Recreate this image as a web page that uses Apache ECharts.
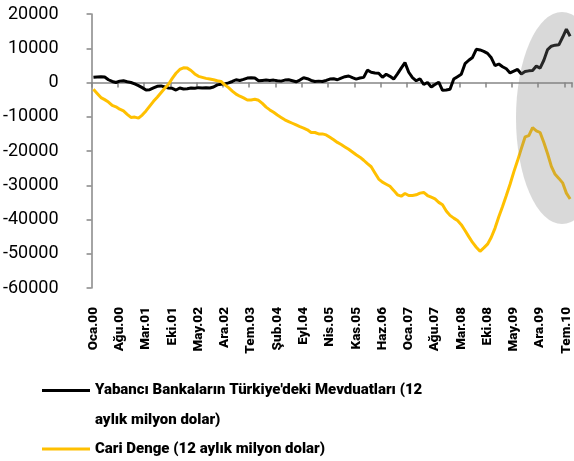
<!DOCTYPE html>
<html>
<head>
    <meta charset="utf-8">
    <title>ECharts</title>
    <script src="https://cdn.jsdelivr.net/npm/echarts@6/dist/echarts.min.js"></script>
    <style>
        html, body { margin: 0; padding: 0; background: #fff; }
    </style>
</head>
<body>
    <div id="main" style="width: 574px;height:461px;"></div>
    <script type="text/javascript">
        // aylar (Oca.00 - Ağu.10, aylık)
        var monthNames = ['Oca', 'Şub', 'Mar', 'Nis', 'May', 'Haz', 'Tem', 'Ağu', 'Eyl', 'Eki', 'Kas', 'Ara'];
        var months = [];
        for (var i = 0; i < 128; i++) {
            var yy = Math.floor(i / 12);
            months.push(monthNames[i % 12] + '.' + (yy < 10 ? '0' + yy : '' + yy));
        }

        var nameDeposits = 'Yabancı Bankaların Türkiye\'deki Mevduatları (12 aylık milyon dolar)';
        var nameCurrent = 'Cari Denge (12 aylık milyon dolar)';

        // Yabancı bankaların Türkiye'deki mevduatları, 12 aylık, milyon $
        var deposits = [
            1500, 1600, 1700, 1600, 800, 300, 0, 400, 500, 200,
            0, -400, -900, -1500, -2200, -2100, -1600, -1100, -1000, -1300,
            -1600, -1700, -2200, -1600, -1900, -1800, -1600, -1700, -1500, -1600,
            -1500, -1600, -1300, -700, -500, -400, -100, 300, 800, 600,
            900, 1300, 1400, 1300, 500, 600, 700, 600, 700, 500,
            400, 700, 800, 500, 200, 700, 1400, 1100, 600, 300,
            400, 300, 600, 1000, 1100, 800, 1300, 1700, 1900, 1400,
            1000, 1300, 1500, 3600, 3000, 2800, 2700, 1500, 2400, 1800,
            1000, 2500, 4200, 5800, 3000, 1400, 500, 1100, -600, 0,
            -1300, -600, 100, -2300, -2200, -2000, 1000, 1700, 2400, 5500,
            6500, 7300, 9700, 9500, 9100, 8500, 7200, 4900, 5400, 4600,
            4000, 2800, 3300, 3800, 2500, 3200, 3400, 3500, 4800, 4200,
            6500, 9600, 10600, 10900, 11000, 13200, 15600, 13500
        ];

        // Cari denge, 12 aylık, milyon $
        var currentAccount = [
            -2000, -3200, -4400, -5000, -5700, -6700, -7100, -7800, -8300, -9300,
            -10200, -10100, -10400, -9500, -8300, -6900, -5500, -4300, -3000, -1700,
            -500, 1200, 2700, 3800, 4300, 4200, 3500, 2500, 1800, 1500,
            1200, 1000, 800, 500, 300, -700, -1500, -2500, -3400, -4000,
            -4500, -5100, -5100, -4900, -5200, -6100, -7200, -8000, -8700, -9500,
            -10200, -10900, -11400, -11900, -12400, -12900, -13300, -13800, -14600, -14600,
            -15000, -15000, -15300, -16000, -16700, -17500, -18100, -18800, -19500, -20300,
            -21100, -21800, -22700, -23700, -24600, -26400, -28200, -29100, -29700, -30300,
            -31500, -32800, -33200, -32400, -33000, -33000, -32800, -32300, -32100, -33000,
            -33500, -34000, -35000, -35700, -37500, -38800, -39600, -40300, -41500, -43200,
            -45000, -46700, -48100, -49300, -48300, -47200, -45200, -42500, -39200, -36200,
            -33000, -29700, -26100, -22800, -19300, -15900, -15500, -13200, -14100, -14600,
            -17500, -20800, -24500, -26800, -28000, -29300, -32300, -34000
        ];

        var myChart = echarts.init(document.getElementById('main'));

        var axisGray = '#868686';
        var font = 'Roboto';

        option = {
            animation: false,
            textStyle: { fontFamily: font },
            grid: { left: 91, right: 2, top: 14, bottom: 173 },
            legend: [
                {
                    // çizgi ikonu iki satırlık metnin ilk satırına hizalı
                    data: [{ name: nameDeposits, icon: 'path://M0,0H48V3H0Z M0,32H0.05V32.05H0Z' }],
                    left: 42,
                    top: 375,
                    padding: 0,
                    itemWidth: 48,
                    itemHeight: 33,
                    itemGap: 5,
                    selectedMode: false,
                    formatter: function () {
                        return 'Yabancı Bankaların Türkiye\'deki Mevduatları (12\naylık milyon dolar)';
                    },
                    textStyle: { fontFamily: font, fontSize: 15, fontWeight: 900, color: '#000', lineHeight: 30 }
                },
                {
                    data: [{ name: nameCurrent, icon: 'rect' }],
                    left: 42,
                    top: 435,
                    padding: 0,
                    itemWidth: 48,
                    itemHeight: 3,
                    itemGap: 5,
                    selectedMode: false,
                    textStyle: { fontFamily: font, fontSize: 15, fontWeight: 900, color: '#000', lineHeight: 28 }
                }
            ],
            xAxis: [
                {
                    type: 'category',
                    data: months,
                    position: 'bottom',
                    axisLine: { show: false, onZero: false },
                    axisTick: { show: false },
                    axisLabel: {
                        interval: 6,
                        rotate: 90,
                        margin: 19,
                        fontFamily: font,
                        fontSize: 13.5,
                        fontWeight: 900,
                        color: '#000'
                    }
                },
                {
                    type: 'category',
                    data: months,
                    position: 'top',
                    axisLine: { show: true, onZero: true, lineStyle: { color: axisGray, width: 1.5 } },
                    axisTick: { show: true, interval: 6, inside: true, length: 5, lineStyle: { color: axisGray, width: 1.5 } },
                    axisLabel: { show: false }
                }
            ],
            yAxis: {
                type: 'value',
                min: -60000,
                max: 20000,
                interval: 10000,
                splitLine: { show: false },
                axisLine: { show: true, lineStyle: { color: axisGray, width: 1.5 } },
                axisTick: { show: true, length: 5, lineStyle: { color: axisGray, width: 1.5 } },
                axisLabel: {
                    fontFamily: font,
                    fontSize: 18,
                    color: '#000',
                    margin: 33,
                    formatter: function (v) { return String(v); }
                }
            },
            graphic: [
                {
                    type: 'circle',
                    x: 562,
                    y: 118,
                    scaleX: 0.434,
                    shape: { cx: 0, cy: 0, r: 106 },
                    style: { fill: 'rgba(130,130,130,0.3)' },
                    z: 100,
                    silent: true
                }
            ],
            series: [
                {
                    name: nameDeposits,
                    type: 'line',
                    xAxisIndex: 0,
                    data: deposits,
                    symbol: 'none',
                    itemStyle: { color: '#000000' },
                    lineStyle: { color: '#000000', width: 3 }
                },
                {
                    name: nameCurrent,
                    type: 'line',
                    xAxisIndex: 0,
                    data: currentAccount,
                    symbol: 'none',
                    itemStyle: { color: '#FFC000' },
                    lineStyle: { color: '#FFC000', width: 3 }
                }
            ]
        };

        myChart.setOption(option);
    </script>
</body>
</html>
